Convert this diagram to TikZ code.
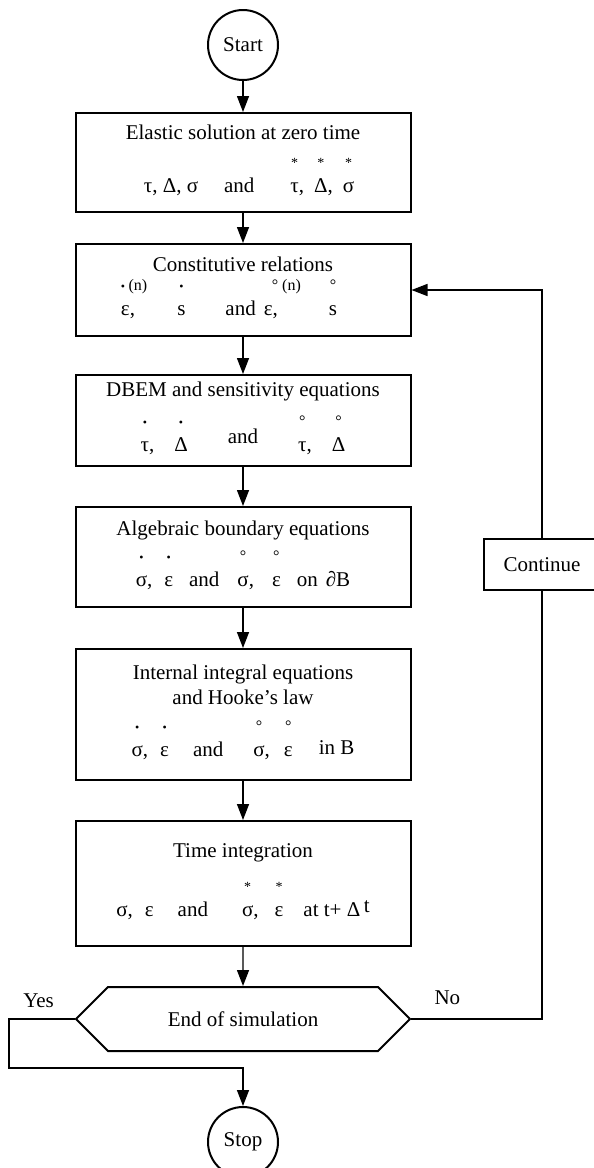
\documentclass[tikz,border=0pt]{standalone}
\usepackage{fontspec}
\setmainfont{Liberation Serif}
\usetikzlibrary{positioning,shapes.symbols,arrows.meta}
\newcommand{\ontop}[2]{\begin{tabular}[b]{@{}c@{}}#1\\#2\end{tabular}}
\newcommand{\lontop}[2]{\begin{tabular}[b]{@{}l@{}}#1\\#2\end{tabular}}
\newcommand{\dotm}{{\fontsize{6}{6}\selectfont •}}
\newcommand{\ringm}{{\fontsize{8}{8}\selectfont °}}
\newcommand{\starm}{{\fontsize{7}{7}\selectfont *}}
\newcommand{\nsup}{{\fontsize{8}{8}\selectfont (n)}}

\begin{document}
\begin{tikzpicture}[
                >={Triangle[length=8pt,width=6pt]},
                node distance=60pt,
                on grid,
                line width=0.7pt,
                font=\fontsize{10.5}{12.5}\selectfont,
                term/.style={circle,draw,line width=1pt,minimum size=35pt,inner sep=0pt},
                block/.style={rectangle,draw,line width=1pt,minimum width=167.5pt,align=center,inner sep=2pt},
                decision/.style={signal,signal to=west and east,signal pointer angle=90,draw,
                    line width=1pt,minimum width=167pt,minimum height=32pt,inner sep=0pt}]
            \useasboundingbox (0,0) rectangle (297pt,-584pt);
            \node[term] (start) at (121.5pt,-22.5pt) {Start};
            \node[block,minimum height=49.5pt] (elastic_sol) [below=58.75pt of start]
                {Elastic solution at zero time\\[4pt]
                \hspace*{6pt}τ, Δ, σ\hspace{13pt}and\hspace{18pt}\ontop{\starm}{τ},\hspace{5pt}\ontop{\starm}{Δ},\hspace{5pt}\ontop{\starm}{σ}};
            \node[block,minimum height=46pt] (const_rel) [below=63.75pt of elastic_sol]
                {Constitutive relations\\[0pt]
                \lontop{\dotm\,\nsup}{ε,}\hspace{15pt}\ontop{\dotm}{s}\hspace{20pt}and\hspace{4pt}\lontop{\hspace{4pt}\ringm\hspace{2pt}\nsup}{ε,}\hspace{14pt}\ontop{\ringm}{s}\hspace*{14pt}};
            \node[block,minimum height=45.5pt] (dbem_sens) [below=65.25pt of const_rel]
                {DBEM and sensitivity equations\\[3pt]
                \ontop{\dotm}{τ},\hspace{10pt}\ontop{\dotm}{Δ}\hspace{20pt}\raisebox{4pt}{and}\hspace{20pt}\ontop{\ringm}{τ},\hspace{10pt}\ontop{\ringm}{Δ}};
            \node[block,minimum height=50pt] (alg_bound) [below=68.25pt of dbem_sens]
                {Algebraic boundary equations\\[1pt]
                \ontop{\dotm}{σ},\hspace{6pt}\ontop{\dotm}{ε}\hspace{8pt}and\hspace{9pt}\ontop{\ringm}{σ},\hspace{9pt}\ontop{\ringm}{ε}\hspace{8pt}on\hspace{4pt}∂B};
            \node[block,minimum height=65.5pt] (int_hooke) [below=78.75pt of alg_bound]
                {Internal integral equations\\
                and Hooke's law\\[4pt]
                \ontop{\dotm}{σ},\hspace{6pt}\ontop{\dotm}{ε}\hspace{12pt}and\hspace{15pt}\ontop{\ringm}{σ},\hspace{7pt}\ontop{\ringm}{ε}\hspace{13pt}\raisebox{1pt}{in B}};
            \node[block,minimum height=62.5pt] (time_int) [below=84.5pt of int_hooke]
                {Time integration\\[5pt]
                σ,\hspace{6pt}ε\hspace{12pt}and\hspace{17pt}\ontop{\starm}{σ},\hspace{8pt}\ontop{\starm}{ε}\hspace{10pt}at t+ Δ\,\raisebox{2pt}{t}};
            \node[decision] (end_sim) [below=67.75pt of time_int] {End of simulation};
            \node[term] (stop) [below=61.5pt of end_sim] {Stop};
            \node[rectangle,draw,line width=1pt,minimum width=58pt,minimum height=25.5pt] (cont)
                at (271pt,-282.25pt) {Continue};
            \node (yes_lbl) at ([shift={(-18pt,9pt)}]end_sim.west) {Yes};
            \node (no_lbl) at ([shift={(18pt,10.5pt)}]end_sim.east) {No};
            \coordinate (yes_turn) at (4.5pt,-534pt);
            \path[->]
            (start) edge (elastic_sol)
            (elastic_sol) edge (const_rel)
            (const_rel) edge (dbem_sens)
            (dbem_sens) edge (alg_bound)
            (alg_bound) edge (int_hooke)
            (int_hooke) edge (time_int)
            (time_int) edge (end_sim)
            ;
            \draw (end_sim.east) -| (cont.south);
            \draw[->] (cont.north) |- (const_rel.east);
            \draw[->] (end_sim.west) -| (yes_turn) -| (stop.north);
        \end{tikzpicture}
\end{document}
